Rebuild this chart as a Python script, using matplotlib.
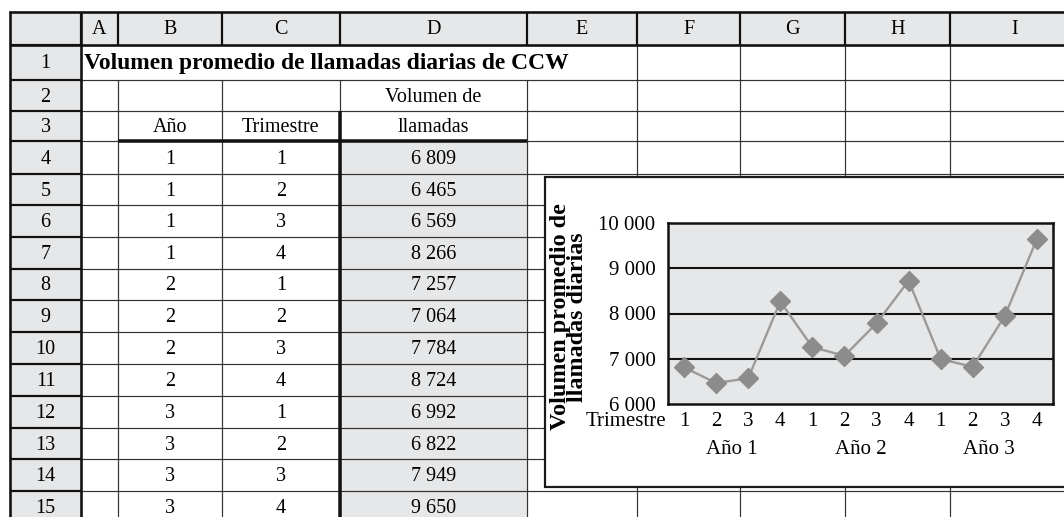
import matplotlib
matplotlib.use("Agg")
import matplotlib.pyplot as plt
from matplotlib.patches import Rectangle
import matplotlib.transforms as mtransforms

plt.rcParams['font.family'] = ['Liberation Serif', 'DejaVu Serif']

# data
col_letters = ['A', 'B', 'C', 'D', 'E', 'F', 'G', 'H', 'I']
row_numbers = list(range(1, 16))
title = "Volumen promedio de llamadas diarias de CCW"
years = [1, 1, 1, 1, 2, 2, 2, 2, 3, 3, 3, 3]
quarters = [1, 2, 3, 4, 1, 2, 3, 4, 1, 2, 3, 4]
volumes = [6809, 6465, 6569, 8266, 7257, 7064, 7784, 8724, 6992, 6822, 7949, 9650]
year_labels = ['Año 1', 'Año 2', 'Año 3']
y_ticks = [6000, 7000, 8000, 9000, 10000]

W, H = 1064, 517
GREY = '#e6e7e8'
fig = plt.figure(figsize=(W / 100, H / 100), dpi=100)
bg = fig.add_axes([0, 0, 1, 1])
bg.set_xlim(0, W)
bg.set_ylim(H, 0)
bg.axis('off')

# grid layout in pixels
xs = [10, 81, 118, 222, 340, 527, 637, 740, 845, 950, 1080]
ys = [12, 45, 80, 111, 141, 174, 205, 237, 269, 300, 332, 364, 396, 428, 459, 491, 523]
PX = 0.72


def hline(y, x0, x1, lw=1.0, c='#333333', z=2):
    bg.plot([x0, x1], [y, y], color=c, lw=lw * PX, zorder=z, solid_capstyle='butt')


def vline(x, y0, y1, lw=1.0, c='#333333', z=2):
    bg.plot([x, x], [y0, y1], color=c, lw=lw * PX, zorder=z, solid_capstyle='butt')


# fills
bg.add_patch(Rectangle((xs[0], ys[0]), xs[-1] - xs[0], ys[1] - ys[0], color=GREY, zorder=1))
bg.add_patch(Rectangle((xs[0], ys[0]), xs[1] - xs[0], ys[-1] - ys[0], color=GREY, zorder=1))
bg.add_patch(Rectangle((xs[4], ys[4]), xs[5] - xs[4], ys[-1] - ys[4], color=GREY, zorder=1))

# thin cell lines
for y in ys[2:]:
    hline(y, xs[1], xs[-1], 1.2)
for x in xs[2:-1]:
    vline(x, ys[2] if x < xs[6] else ys[1], ys[-1], 1.2)

# header separators
for x in xs[1:-1]:
    vline(x, ys[0], ys[1], 2.2, '#111111', 3)
for y in ys[1:]:
    hline(y, xs[0], xs[1], 2.2, '#111111', 3)

# outer borders
hline(ys[0], xs[0] - 1, xs[-1], 2.6, '#111111', 4)
hline(ys[1], xs[0], xs[-1], 2.6, '#111111', 4)
vline(xs[0], ys[0] - 1, ys[-1], 2.6, '#111111', 4)
vline(xs[1], ys[0], ys[-1], 2.6, '#111111', 4)

# thick borders around the data block
hline(ys[4], xs[2], xs[5], 3.5, '#111111', 4)
vline(xs[4], ys[3], ys[-1], 3.5, '#111111', 4)

FS = 14.5
for i, letter in enumerate(col_letters):
    bg.text((xs[i + 1] + xs[i + 2]) / 2, (ys[0] + ys[1]) / 2 + 6, letter,
            ha='center', va='baseline', fontsize=FS, zorder=5)
for i, n in enumerate(row_numbers):
    bg.text((xs[0] + xs[1]) / 2, (ys[i + 1] + ys[i + 2]) / 2 + 6, str(n),
            ha='center', va='baseline', fontsize=FS, zorder=5)

bg.text(xs[1] + 3, (ys[1] + ys[2]) / 2 + 6, title, ha='left', va='baseline',
        fontsize=16.9, fontweight='bold', zorder=5)


def cell(col, row, s):
    bg.text((xs[col] + xs[col + 1]) / 2, (ys[row] + ys[row + 1]) / 2 + 6, s,
            ha='center', va='baseline', fontsize=FS, zorder=5)


cell(4, 2, 'Volumen de')
cell(2, 3, 'Año')
cell(3, 3, 'Trimestre')
cell(4, 3, 'llamadas')
for k in range(len(volumes)):
    cell(2, 4 + k, str(years[k]))
    cell(3, 4 + k, str(quarters[k]))
    cell(4, 4 + k, f"{volumes[k]:,}".replace(",", " "))

# chart frame
bg.add_patch(Rectangle((545, 177), 540, 310, facecolor='white', edgecolor='#1a1a1a',
                       lw=2.2 * PX, zorder=6))
bg.text(569, 317, "Volumen promedio de\nllamadas diarias", rotation=90,
        ha='center', va='center', multialignment='center', linespacing=0.8,
        fontsize=17.4, fontweight='bold', zorder=7)

# plot area
L, R, T, B = 668, 1053, 223, 404
ax = fig.add_axes([L / W, 1 - B / H, (R - L) / W, (B - T) / H])
ax.set_facecolor(GREY)
x = list(range(len(volumes)))
ax.plot(x, volumes, color='#9a9a9a', lw=1.7, marker='D', markersize=10,
        markerfacecolor='#8c8c8c', markeredgecolor='#8c8c8c', zorder=3)
ax.set_xlim(-0.5, len(volumes) - 0.5)
ax.set_ylim(y_ticks[0], y_ticks[-1])
ax.set_yticks(y_ticks)
ax.set_yticklabels([f"{v:,}".replace(",", " ") for v in y_ticks], fontsize=15)
ax.set_xticks(x)
ax.set_xticklabels([str(q) for q in quarters], fontsize=15)
ax.tick_params(axis='y', length=0, pad=9)
ax.tick_params(axis='x', length=0, pad=6)
for v in y_ticks[1:-1]:
    ax.axhline(v, color='#111111', lw=1.5, zorder=2)
for s in ax.spines.values():
    s.set_linewidth(1.8)
    s.set_color('#111111')

trans = mtransforms.blended_transform_factory(ax.transData, ax.transAxes)
ax.text(-0.55, -(421 - B) / (B - T), 'Trimestre', transform=trans,
        ha='right', va='center', fontsize=15)
for j, lab in enumerate(year_labels):
    ax.text(4 * j + 1.5, -(449 - B) / (B - T), lab, transform=trans,
            ha='center', va='center', fontsize=15)

fig.savefig('out.png', dpi=100)
